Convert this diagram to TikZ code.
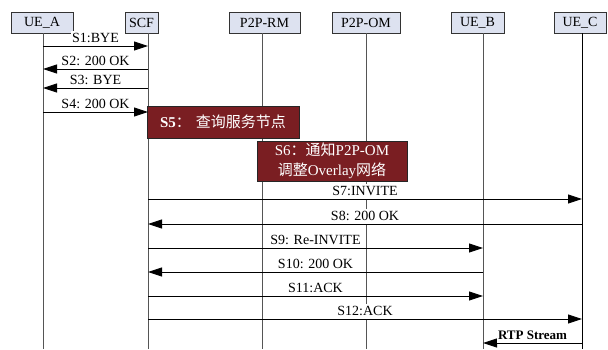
\documentclass[tikz,border=0pt]{standalone}
\usepackage{fontspec}
\setmainfont{Liberation Serif}
\newfontfamily\cjk{Noto Sans CJK SC}
\usetikzlibrary{arrows.meta}
\definecolor{headfill}{HTML}{DDE2F0}
\definecolor{boxred}{HTML}{7A1E22}
\definecolor{lifegray}{HTML}{555555}
\begin{document}
\begin{tikzpicture}[x=1pt,y=-1pt,
  head/.style={draw=black!80, fill=headfill, line width=0.8pt, minimum height=21pt, inner sep=0pt, font=\fontsize{14}{16}\selectfont},
  life/.style={draw=lifegray, line width=0.9pt},
  lifeblack/.style={draw=black, line width=0.9pt},
  msg/.style={draw=black, line width=0.9pt, -{Triangle[length=14pt,width=9pt]}},
  lbl/.style={fill=white, inner sep=1.5pt, text depth=0.25em, anchor=base, yshift=4pt, font=\fontsize{14}{16}\selectfont},
  rtplbl/.style={lbl, font=\fontsize{13}{15}\selectfont\bfseries},
  note/.style={draw=black!85, fill=boxred, text=white, line width=0.8pt, inner sep=0pt, align=center, font=\fontsize{15}{20}\selectfont}]

\useasboundingbox (0,0) rectangle (608,349);
\fill[white] (0,0) rectangle (608,349);

% header boxes
\node[head, minimum width=62pt] (ueA) at (42,22.5) {UE\_A};
\node[head, minimum width=33pt] (scf) at (141.5,22.5) {SCF};
\node[head, minimum width=71pt] (rm) at (264.5,22.5) {P2P-RM};
\node[head, minimum width=68pt] (om) at (366,22.5) {P2P-OM};
\node[head, minimum width=53pt] (ueB) at (477.5,22.5) {UE\_B};
\node[head, minimum width=52pt] (ueC) at (580,22.5) {UE\_C};

% lifeline ends
\coordinate (endA) at (43,349);
\coordinate (endS) at (148,349);
\coordinate (endR) at (262,349);
\coordinate (endO) at (366,349);
\coordinate (endB) at (483,349);
\coordinate (endC) at (582,349);

\draw[life] (ueA.south -| endA) -- (endA);
\draw[life] (scf.south -| endS) -- (endS);
\draw[life] (rm.south -| endR) -- (endR);
\draw[life] (om.south -| endO) -- (endO);
\draw[life] (ueB.south -| endB) -- (endB);
\draw[lifeblack] (ueC.south -| endC) -- (endC);

% notes
\node[note, minimum width=152pt, minimum height=32pt] (s5) at (223,122)
  {\textbf{S5}{\cjk ：}\hspace{5pt}{\cjk 查询服务节点}};
\node[note, minimum width=150pt, minimum height=40pt] (s6) at (332,161)
  {S6{\cjk ：通知}P2P-OM\\{\cjk 调整}Overlay{\cjk 网络}};

% messages
\draw[msg] (endA |- 0,46) -- (endS |- 0,46) node[lbl, midway] {S1:BYE};
\draw[msg] (endS |- 0,69) -- (endA |- 0,69) node[lbl, midway] {S2: 200 OK};
\draw[msg] (endS |- 0,88) -- (endA |- 0,88) node[lbl, midway] {S3: BYE};
\draw[msg] (endA |- 0,112) -- (endS |- 0,112) node[lbl, midway] {S4: 200 OK};
\draw[msg] (endS |- 0,199) -- (endC |- 0,199) node[lbl, midway] {S7:INVITE};
\draw[msg] (endC |- 0,224) -- (endS |- 0,224) node[lbl, midway] {S8: 200 OK};
\draw[msg] (endS |- 0,248) -- (endB |- 0,248) node[lbl, midway] {S9: Re-INVITE};
\draw[msg] (endB |- 0,272) -- (endS |- 0,272) node[lbl, midway] {S10: 200 OK};
\draw[msg] (endS |- 0,296) -- (endB |- 0,296) node[lbl, midway] {S11:ACK};
\draw[msg] (endS |- 0,319) -- (endC |- 0,319) node[lbl, midway] {S12:ACK};
\draw[msg] (endC |- 0,343) -- (endB |- 0,343) node[rtplbl, midway] {RTP Stream};
\end{tikzpicture}
\end{document}
